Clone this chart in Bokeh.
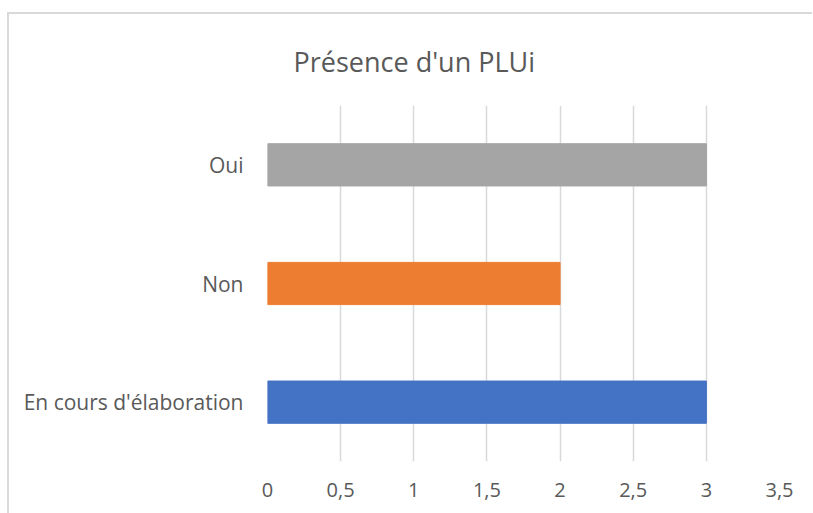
from bokeh.plotting import figure
from bokeh.models import Range1d, FactorRange, FixedTicker, ColumnDataSource
from bokeh.embed import file_html
from bokeh.resources import INLINE

# Data
categories = ["En cours d'élaboration", "Non", "Oui"]
values = [3, 2, 3]
colors = ["#4472C4", "#ED7D31", "#A5A5A5"]
x_ticks = [0, 0.5, 1, 1.5, 2, 2.5, 3, 3.5]
x_tick_labels = ["0", "0,5", "1", "1,5", "2", "2,5", "3", "3,5"]
title_text = "Présence d'un PLUi"

FONT = "Open Sans"
TXT = "#595959"
GRID = "#D9D9D9"

source = ColumnDataSource(dict(cat=categories, val=values, color=colors))

p = figure(
    width=803, height=499,
    y_range=FactorRange(*categories),
    x_range=Range1d(0, 3.5),
    output_backend="svg", toolbar_location=None,
    min_border_left=258, min_border_right=35,
    min_border_top=91, min_border_bottom=54,
)
p.styles = {"border-top": "2px solid #D9D9D9", "border-left": "2px solid #D9D9D9",
            "margin-top": "12px", "margin-left": "7px", "box-sizing": "content-box"}
p.outline_line_color = None

p.hbar(y="cat", right="val", left=0, height=0.356, color="color", source=source)

# Title
p.title.text = title_text
p.title.align = "left"
p.title.offset = 26
p.title.text_font = FONT
p.title.text_font_size = "27px"
p.title.text_font_style = "normal"
p.title.text_color = TXT
p.title.standoff = 51

# X axis
p.xaxis.ticker = FixedTicker(ticks=x_ticks)
p.xaxis.major_label_overrides = {t: l for t, l in zip(x_ticks, x_tick_labels)}
p.xaxis.axis_line_color = None
p.xaxis.major_tick_line_color = None
p.xaxis.minor_tick_line_color = None
p.xaxis.major_tick_out = 0
p.xaxis.major_label_standoff = 21
p.xaxis.major_label_text_font = FONT
p.xaxis.major_label_text_font_size = "20px"
p.xaxis.major_label_text_color = TXT

# Y axis
p.yaxis.axis_line_color = None
p.yaxis.major_tick_line_color = None
p.yaxis.major_tick_out = 0
p.yaxis.major_label_standoff = 24
p.yaxis.major_label_text_font = FONT
p.yaxis.major_label_text_font_size = "21px"
p.yaxis.major_label_text_color = TXT

# Grids
p.xgrid.grid_line_color = GRID
p.xgrid.grid_line_width = 1.5
p.ygrid.grid_line_color = None

open("out.html", "w").write(file_html(p, INLINE))
